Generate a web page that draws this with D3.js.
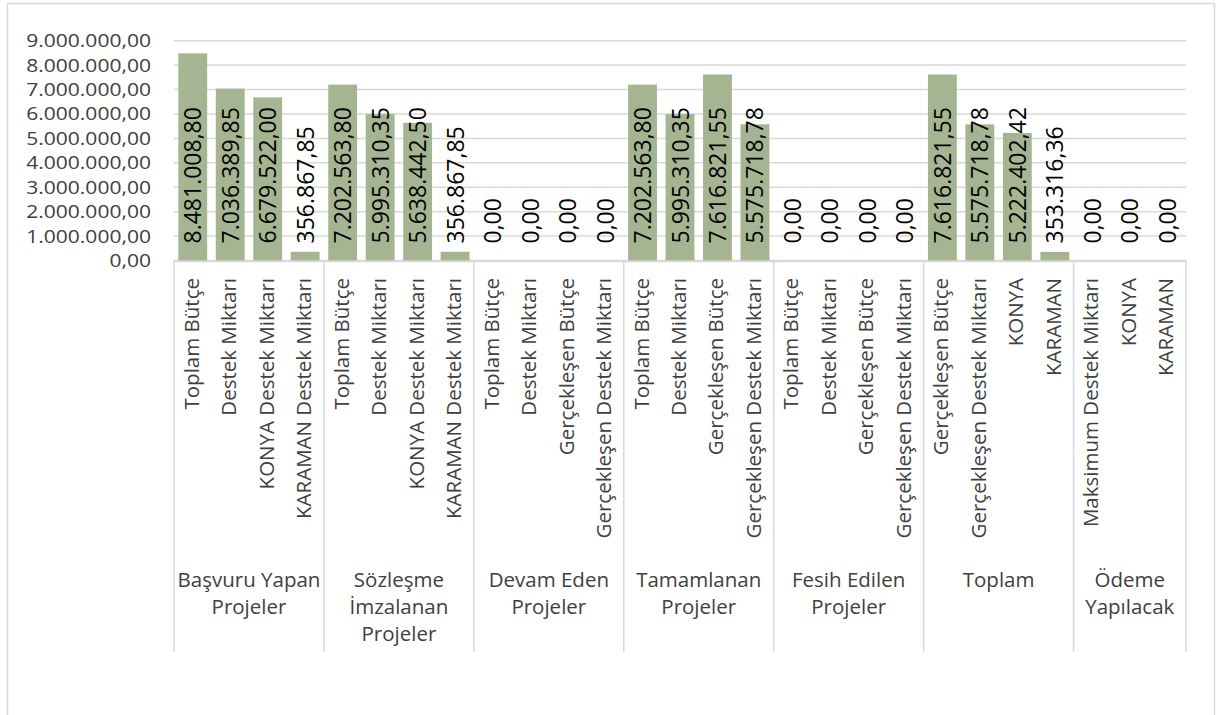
<!DOCTYPE html>
<html><head><meta charset="utf-8">
<script src="https://cdn.jsdelivr.net/npm/d3@7"></script>
<style>html,body{margin:0;padding:0;background:#fff;}svg{display:block;}</style>
</head><body>
<svg id="c" width="1217" height="715"></svg>
<script>
const groups = ["Başvuru Yapan Projeler","Sözleşme İmzalanan Projeler","Devam Eden Projeler","Tamamlanan Projeler","Fesih Edilen Projeler","Toplam","Ödeme Yapılacak"];
const groupLines = [["Başvuru Yapan","Projeler"],["Sözleşme","İmzalanan","Projeler"],["Devam Eden","Projeler"],["Tamamlanan","Projeler"],["Fesih Edilen","Projeler"],["Toplam"],["Ödeme","Yapılacak"]];
const categories = [
  ["Toplam Bütçe","Destek Miktarı","KONYA Destek Miktarı","KARAMAN Destek Miktarı"],
  ["Toplam Bütçe","Destek Miktarı","KONYA Destek Miktarı","KARAMAN Destek Miktarı"],
  ["Toplam Bütçe","Destek Miktarı","Gerçekleşen Bütçe","Gerçekleşen Destek Miktarı"],
  ["Toplam Bütçe","Destek Miktarı","Gerçekleşen Bütçe","Gerçekleşen Destek Miktarı"],
  ["Toplam Bütçe","Destek Miktarı","Gerçekleşen Bütçe","Gerçekleşen Destek Miktarı"],
  ["Gerçekleşen Bütçe","Gerçekleşen Destek Miktarı","KONYA","KARAMAN"],
  ["Maksimum Destek Miktarı","KONYA","KARAMAN"]
];
const values = [
  [8481008.80, 7036389.85, 6679522.00, 356867.85],
  [7202563.80, 5995310.35, 5638442.50, 356867.85],
  [0, 0, 0, 0],
  [7202563.80, 5995310.35, 7616821.55, 5575718.78],
  [0, 0, 0, 0],
  [7616821.55, 5575718.78, 5222402.42, 353316.36],
  [0, 0, 0]
];
const yTicks = [0,1000000,2000000,3000000,4000000,5000000,6000000,7000000,8000000,9000000];

const tr = d3.formatLocale({decimal:",", thousands:".", grouping:[3], currency:["","₺"]});
const fmt = tr.format(",.2f");

const rows = [];
groups.forEach((g,gi)=>categories[gi].forEach((c,ci)=>rows.push({g:gi,c,v:values[gi][ci],key:gi+"|"+ci})));

const svg = d3.select("#c");
const L = 174, R = 1186, T = 40.7, B = 260.5;
const x = d3.scaleBand().domain(rows.map(r=>r.key)).range([L,R]).paddingInner(0.23).paddingOuter(0.115);
const y = d3.scaleLinear().domain([0,9000000]).range([B,T]);
const step = x.step();

svg.append("rect").attr("x",7.5).attr("y",3.5).attr("width",1207).attr("height",730)
  .attr("fill","#fff").attr("stroke","#d9d9d9").attr("stroke-width",1.5);

svg.append("g").selectAll("line").data(yTicks).join("line")
  .attr("x1",L).attr("x2",R).attr("y1",d=>y(d)).attr("y2",d=>y(d))
  .attr("stroke","#d9d9d9").attr("stroke-width",1.5);

svg.append("g").selectAll("text").data(yTicks).join("text")
  .attr("transform",d=>`translate(151,${y(d)}) scale(1.17,1)`)
  .attr("dy","0.36em").attr("text-anchor","end")
  .attr("font-family","'Open Sans', sans-serif").attr("font-size",18).attr("fill","#404040")
  .text(d=>fmt(d));

svg.append("g").selectAll("rect").data(rows).join("rect")
  .attr("x",d=>x(d.key)).attr("width",x.bandwidth())
  .attr("y",d=>y(d.v)).attr("height",d=>y(0)-y(d.v))
  .attr("fill","#a5b592");

svg.append("line").attr("x1",L).attr("x2",R).attr("y1",B+1).attr("y2",B+1).attr("stroke","#d9d9d9").attr("stroke-width",1.5);
let idx = 0; const bounds=[0];
categories.forEach(c=>{idx+=c.length; bounds.push(idx);});
svg.append("g").selectAll("line").data(bounds).join("line")
  .attr("x1",d=>L+d*step).attr("x2",d=>L+d*step).attr("y1",B).attr("y2",652)
  .attr("stroke","#d9d9d9").attr("stroke-width",1.5);

svg.append("g").selectAll("text").data(rows).join("text")
  .attr("transform",d=>`translate(${x(d.key)+x.bandwidth()/2+8.5},${y(0)-17}) rotate(-90)`)
  .attr("text-anchor","start")
  .attr("font-family","'Open Sans', sans-serif").attr("font-size",23).attr("fill","#000")
  .text(d=>fmt(d.v));

svg.append("g").selectAll("text").data(rows).join("text")
  .attr("transform",d=>`translate(${x(d.key)+x.bandwidth()/2+6},278) rotate(-90)`)
  .attr("text-anchor","end")
  .attr("font-family","'Open Sans', sans-serif").attr("font-size",20.5).attr("fill","#404040")
  .text(d=>d.c);

const gl = svg.append("g");
groupLines.forEach((lines,gi)=>{
  const cx = L + (bounds[gi]+bounds[gi+1])/2*step;
  lines.forEach((t,li)=>{
    gl.append("text").attr("x",cx).attr("y",587+li*27).attr("text-anchor","middle")
      .attr("font-family","'Open Sans', sans-serif").attr("font-size",20.5).attr("fill","#404040")
      .text(t);
  });
});
</script>
</body></html>
